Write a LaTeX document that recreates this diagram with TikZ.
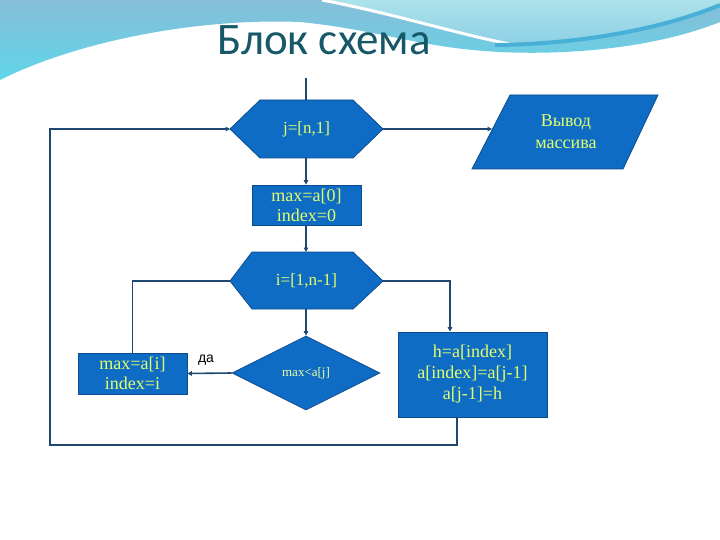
\documentclass[tikz,border=0pt]{standalone}
\usepackage{fontspec}
\setmainfont{Liberation Serif}
\newfontfamily\titlefont{Carlito}
\newfontfamily\labelfont{Liberation Sans}
\usetikzlibrary{arrows.meta,shapes.geometric}
\definecolor{boxfill}{RGB}{15,108,196}
\definecolor{boxedge}{RGB}{12,76,140}
\definecolor{boxtext}{RGB}{226,255,107}
\definecolor{linecol}{RGB}{30,72,112}
\definecolor{titlecol}{RGB}{22,88,104}
\definecolor{waveA}{RGB}{135,190,215}
\definecolor{waveB}{RGB}{95,214,234}
\definecolor{waveC}{RGB}{172,226,234}
\definecolor{waveD}{RGB}{140,208,230}
\definecolor{stripe}{RGB}{72,176,214}
\tikzset{
  shapestyle/.style={fill=boxfill, draw=boxedge, line width=0.8pt},
  boxnode/.style={shapestyle, rectangle, inner sep=0pt, align=center, text=boxtext, font=\fontsize{18}{20}\selectfont},
  txt/.style={text=boxtext, align=center, inner sep=0pt},
  conn/.style={draw=linecol, line width=1.6pt},
  arr/.style={conn, -{Triangle[length=4.5pt,width=4.5pt]}}
}
\begin{document}
\begin{tikzpicture}[x=1pt,y=-1pt]
\useasboundingbox (0,0) rectangle (720,540);
\fill[white] (0,0) rectangle (720,540);
% background waves
\shade[top color=waveA, bottom color=waveB]
  (0,0) -- (720,0) -- (720,22)
  .. controls (650,50) and (560,55) .. (500,52)
  .. controls (420,48) and (380,30) .. (300,22)
  .. controls (200,18) and (80,40) .. (0,80) -- cycle;
\shade[top color=waveC, bottom color=waveD]
  (325,0) .. controls (400,15) and (460,35) .. (512,45)
  .. controls (600,42) and (680,22) .. (720,5) -- (720,0) -- cycle;
\draw[white, line width=3pt] (322,0) .. controls (400,15) and (460,35) .. (515,45);
\draw[stripe, line width=4pt] (495,45) .. controls (600,44) and (680,22) .. (720,5);
% title
\node[font=\titlefont\fontsize{45}{45}\selectfont, text=titlecol, anchor=base] (title) at (324,55) {Блок схема};

% hexagon 1
\coordinate (h1w) at (230,129); \coordinate (h1e) at (383,129);
\coordinate (h1n) at (306,100); \coordinate (h1s) at (306,158);
\coordinate (top) at (306,78);
\filldraw[shapestyle] (230,129) -- (260,100) -- (353,100) -- (383,129) -- (353,158) -- (260,158) -- cycle;
\node[txt, font=\fontsize{17}{18}\selectfont] (hex1) at (306.5,129) {j=[n,1]};

% output parallelogram
\coordinate (outw) at (492,129);
\filldraw[shapestyle] (510,95) -- (658,95) -- (623,169) -- (472,169) -- cycle;
\node[txt, font=\fontsize{18}{22}\selectfont] (out) at (566,132) {Вывод\\массива};

% init box
\node[boxnode, minimum width=109pt, minimum height=40pt] (init) at (306.5,205) {max=a[0]\\index=0};

% hexagon 2
\coordinate (h2w) at (230,281); \coordinate (h2e) at (383,281);
\coordinate (h2n) at (306,252); \coordinate (h2s) at (306,309);
\filldraw[shapestyle] (230,281) -- (252,252) -- (353,252) -- (383,281) -- (353,309) -- (252,309) -- cycle;
\node[txt, font=\fontsize{17}{18}\selectfont] (hex2) at (306.5,281) {i=[1,n-1]};

% diamond
\node[shapestyle, diamond, minimum width=148pt, minimum height=74pt, inner sep=0pt,
      text=boxtext!60!white, font=\fontsize{13}{14}\selectfont] (cond) at (306,373) {max<a[j]};

% assign box
\node[boxnode, minimum width=109pt, minimum height=41pt] (assign) at (132.5,373.5) {max=a[i]\\index=i};

% swap box
\node[boxnode, minimum width=149pt, minimum height=85pt, font=\fontsize{18}{21}\selectfont] (swap) at (472.5,374.5) {h=a[index]\\a[index]=a[j-1]\\a[j-1]=h};

\node[font=\labelfont\fontsize{14}{15}\selectfont, anchor=base] (yes) at (206,362) {да};

% connectors
\draw[conn] (top) -- (h1n);
\draw[arr] (h1e) -- (outw);
\draw[arr] (h1s) -- (h1s |- init.north);
\draw[arr] (h1s |- init.south) -- (h2n);
\draw[arr] (h2s) -- (cond.north);
\draw[arr] (cond.west) -- (assign.east);
\draw[conn] (h2w) -| (assign.north);
\draw[arr] (h2e) -| ([xshift=-22.5pt]swap.north);
\draw[arr] ([xshift=-15.5pt]swap.south) |- (50,445) |- (h1w);
\end{tikzpicture}
\end{document}
